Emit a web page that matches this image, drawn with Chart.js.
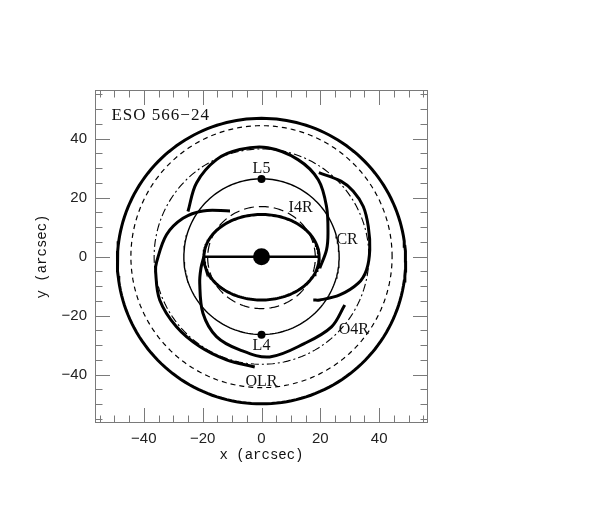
<!DOCTYPE html>
<html>
<head>
<meta charset="utf-8">
<script src="https://cdn.jsdelivr.net/npm/chart.js@4.4.1/dist/chart.umd.min.js"></script>
<style>
  html, body { margin: 0; padding: 0; background: #fff; }
</style>
</head>
<body>
<canvas id="galaxyMap" width="598" height="506"></canvas>
<script>
// axis ticks (arcsec)
const xTickValues = [-40, -20, 0, 20, 40];
const yTickValues = [-40, -20, 0, 20, 40];

// rings: outer ring, OLR, O4R, CR, I4R, inner ring  (arcsec)
const ringNames = ['outer ring', 'OLR', 'O4R', 'CR', 'I4R', 'inner ring'];
const ringCx = [0, 0, 0, 0, 0, 0];
const ringCy = [-1.5, 0, 0, 0, -0.3, -0.2];
const ringRx = [49, 44.4, 36.5, 26.4, 18.3, 19.6];
const ringRy = [48.4, 44.4, 36.5, 26.4, 17.3, 14.5];

// spiral arms (arcsec)
const armAx = [-25.0, -22.1, -15.3, -7.4, 2.2, 12.4, 19.3, 22.1, 22.6, 22.1, 19.8];
const armAy = [15.3, 25.0, 32.9, 36.3, 36.9, 32.9, 26.1, 17.0, 7.9, 2.3, -3.9];
const armBx = [19.5, 27.0, 31.2, 34.6, 36.3, 36.8, 35.7, 32.9, 26.6, 19.8, 17.6];
const armBy = [28.5, 25.6, 22.2, 17.0, 10.2, 2.3, -4.5, -9.0, -13.0, -14.7, -14.7];
const armCx = [-10.7, -19.9, -26.7, -32.3, -35.7, -36.0, -34.6, -28.9, -21.0, -11.9, -2.3];
const armCy = [15.5, 15.5, 13.0, 7.4, -2.0, -5.0, -14.7, -23.8, -30.5, -35.0, -37.4];
const armDx = [-19.6, -20.6, -21.0, -19.9, -15.3, -7.4, 2.8, 14.7, 23.8, 28.3];
const armDy = [0.0, -4.0, -9.0, -19.2, -27.1, -31.6, -34.0, -29.4, -23.8, -16.4];

// bar and Lagrangian points
const barX = [-19.3, 19.3];
const barY = [0, 0];
const lagrangeX = [0, 0];
const lagrangeY = [26.3, -26.5];

// text labels inside the frame
const labelTexts = ['L5', 'L4', 'I4R', 'CR', 'O4R', 'OLR'];
const labelX = [0, 0, 13.3, 29.1, 31.4, 0];
const labelY = [29.9, -30.3, 16.4, 5.7, -24.8, -42.4];
const galaxyName = 'ESO 566\u221224';
const galaxyNameX = -51.0;
const galaxyNameY = 47.9;

const toPoints = (xs, ys) => xs.map((v, i) => ({ x: v, y: ys[i] }));

function ringPoints(i) {
  const pts = [];
  for (let k = 0; k <= 180; k++) {
    const t = (k / 180) * Math.PI * 2;
    pts.push({ x: ringCx[i] + ringRx[i] * Math.cos(t), y: ringCy[i] + ringRy[i] * Math.sin(t) });
  }
  return pts;
}

const ringStyle = [
  { borderWidth: 3, borderDash: [] },
  { borderWidth: 1.2, borderDash: [5, 4] },
  { borderWidth: 1.1, borderDash: [8, 3, 2, 3] },
  { borderWidth: 1.4, borderDash: [] },
  { borderWidth: 1.2, borderDash: [10, 5] },
  { borderWidth: 3, borderDash: [] }
];

const datasets = ringNames.map((name, i) => ({
  label: name,
  data: ringPoints(i),
  showLine: true,
  pointRadius: 0,
  borderColor: '#000',
  borderWidth: ringStyle[i].borderWidth,
  borderDash: ringStyle[i].borderDash,
  tension: 0
}));

[[armAx, armAy], [armBx, armBy], [armCx, armCy], [armDx, armDy]].forEach((arm, i) => {
  datasets.push({
    label: 'arm ' + (i + 1),
    data: toPoints(arm[0], arm[1]),
    showLine: true,
    pointRadius: 0,
    borderColor: '#000',
    borderWidth: 3,
    borderCapStyle: 'butt',
    tension: 0.35
  });
});

datasets.push({
  label: 'bar',
  data: toPoints(barX, barY),
  showLine: true,
  pointRadius: 0,
  borderColor: '#000',
  borderWidth: 2.5
});
datasets.push({
  label: 'nucleus',
  data: [{ x: 0, y: 0 }],
  pointRadius: 8.5,
  pointBackgroundColor: '#000',
  pointBorderWidth: 0
});
datasets.push({
  label: 'L4 / L5',
  data: toPoints(lagrangeX, lagrangeY),
  pointRadius: 4,
  pointBackgroundColor: '#000',
  pointBorderWidth: 0
});

// inward ticks on all four sides, frame, labels
const frameAndLabels = {
  id: 'frameAndLabels',
  afterDatasetsDraw(chart) {
    const { ctx, chartArea: a, scales: { x, y } } = chart;
    ctx.save();
    ctx.strokeStyle = '#7a7a7a';
    ctx.lineWidth = 1;
    ctx.strokeRect(a.left + 0.5, a.top + 0.5, a.width - 1, a.height - 1);
    ctx.beginPath();
    for (let v = -55; v <= 55; v += 5) {
      const len = v % 20 === 0 ? 15 : 7.5;
      const px = Math.round(x.getPixelForValue(v)) + 0.5;
      const py = Math.round(y.getPixelForValue(v)) + 0.5;
      ctx.moveTo(px, a.bottom); ctx.lineTo(px, a.bottom - len);
      ctx.moveTo(px, a.top); ctx.lineTo(px, a.top + len);
      ctx.moveTo(a.left, py); ctx.lineTo(a.left + len, py);
      ctx.moveTo(a.right, py); ctx.lineTo(a.right - len, py);
    }
    ctx.stroke();

    ctx.fillStyle = '#111';
    ctx.textBaseline = 'middle';
    ctx.font = '16px "Liberation Serif"';
    ctx.textAlign = 'center';
    labelTexts.forEach((t, i) => {
      ctx.fillText(t, x.getPixelForValue(labelX[i]), y.getPixelForValue(labelY[i]));
    });
    ctx.font = '17px "Liberation Serif"';
    ctx.textAlign = 'left';
    if ('letterSpacing' in ctx) ctx.letterSpacing = '1px';
    ctx.fillText(galaxyName, x.getPixelForValue(galaxyNameX), y.getPixelForValue(galaxyNameY));
    ctx.restore();
  }
};

const tickFont = { family: '"Liberation Sans", Arial, sans-serif', size: 15 };
const titleFont = { family: '"Liberation Mono", monospace', size: 14 };

new Chart(document.getElementById('galaxyMap'), {
  type: 'scatter',
  data: { datasets },
  options: {
    responsive: false,
    animation: false,
    layout: { padding: { left: 0, top: 90, right: 170, bottom: 0 } },
    plugins: { legend: { display: false }, tooltip: { enabled: false } },
    scales: {
      x: {
        type: 'linear',
        min: -56.6,
        max: 56.6,
        afterBuildTicks: (s) => { s.ticks = xTickValues.map(v => ({ value: v })); },
        afterFit: (s) => { s.height = 83; },
        grid: { display: false, drawTicks: false },
        border: { display: false },
        ticks: {
          font: tickFont,
          color: '#222',
          padding: 7,
          maxRotation: 0,
          callback: (v) => (v < 0 ? '\u2212' + Math.abs(v) : String(v))
        },
        title: { display: true, text: 'x (arcsec)', font: titleFont, color: '#111', padding: { top: 0, bottom: 42 } }
      },
      y: {
        type: 'linear',
        min: -56.4,
        max: 56.5,
        afterBuildTicks: (s) => { s.ticks = yTickValues.map(v => ({ value: v })); },
        afterFit: (s) => { s.width = 95; },
        grid: { display: false, drawTicks: false },
        border: { display: false },
        ticks: {
          font: tickFont,
          color: '#222',
          padding: 8,
          callback: (v) => (v < 0 ? '\u2212' + Math.abs(v) : String(v))
        },
        title: { display: true, text: 'y (arcsec)', font: titleFont, color: '#111', padding: { top: 34, bottom: 0 } }
      }
    }
  },
  plugins: [frameAndLabels]
});
</script>
</body>
</html>
